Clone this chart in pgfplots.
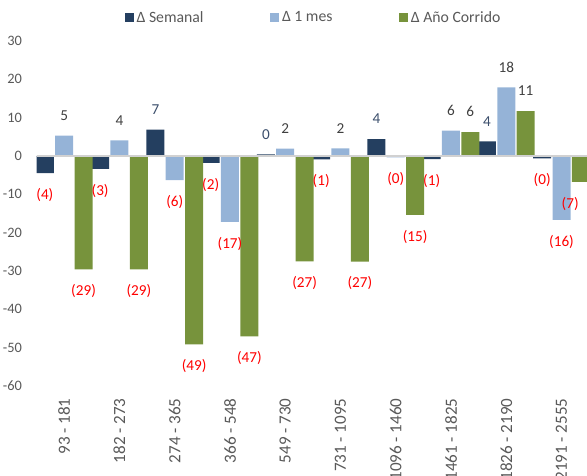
\documentclass[border=0pt]{standalone}
\usepackage{pgfplots}
\pgfplotsset{compat=1.18}
\usepackage{fontspec}
\setmainfont{Carlito}
\definecolor{cNavy}{HTML}{243F60}
\definecolor{cLB}{HTML}{95B3D7}
\definecolor{cGreen}{HTML}{77933C}
\definecolor{cTick}{HTML}{595959}
\definecolor{cLab}{HTML}{404040}
\definecolor{cSemLab}{HTML}{3B4E6B}
\newcommand\nl[1]{\textcolor{red}{(#1)}}
\newcommand\pl[1]{\textcolor{cLab}{#1}}
\newcommand\ps[1]{\textcolor{cSemLab}{#1}}
\begin{document}
\begin{tikzpicture}
\useasboundingbox (-27.45pt,-67pt) rectangle (412.8pt,289.3pt);
\clip (-27.45pt,-67pt) rectangle (412.8pt,289.3pt);
\begin{axis}[
  at={(0pt,0pt)}, anchor=south west,
  scale only axis, width=414.4pt, height=258.5pt,
  xmin=-0.5, xmax=9.5, ymin=-60, ymax=30,
  ybar=1pt, bar width=13.5pt,
  ytick={-60,-50,...,30},
  xtick={0,...,9},
  xticklabels={93 - 181,182 - 273,274 - 365,366 - 548,549 - 730,731 - 1095,1096 - 1460,1461 - 1825,1826 - 2190,2191 - 2555},
  axis line style={draw=none},
  major tick length=0pt,
  /pgf/number format/assume math mode=true,
  yticklabel style={font=\fontsize{10.8}{12}\selectfont, text=cTick},
  yticklabel shift=7.5pt,
  xticklabel style={rotate=90, anchor=east, font=\fontsize{12.8}{14}\selectfont, text=cTick},
  xticklabel shift=6pt,
  point meta=explicit symbolic,
  visualization depends on={rawy \as \rawy},
  nodes near coords,
  nodes near coords style={font=\fontsize{11.4}{13}\selectfont, inner ysep=11.2pt,
    anchor={\ifdim\rawy pt<0pt north\else south\fi}},
  every axis plot post/.append style={draw=none,
    legend image code/.code={\fill[##1] (0pt,-3.4pt) rectangle (6.8pt,3.4pt);}},
  legend columns=3,
  legend style={at={(0.502,1.0676)}, anchor=center, draw=none, fill=none,
    font=\fontsize{11.8}{13}\selectfont, text=cTick,
    /tikz/every even column/.append style={column sep=48pt}},
]
\addplot[fill=cNavy] coordinates {
 (0,-4.5) [\nl{4}] (1,-3.4) [\nl{3}] (2,6.9) [\ps{7}] (3,-1.8) [\nl{2}] (4,0.4) [\ps{0}]
 (5,-0.9) [\nl{1}] (6,4.4) [\ps{4}] (7,-0.8) [\nl{1}] (8,3.8) [\ps{4}] (9,-0.6) [\nl{0}]
};
\addplot[fill=cLB] coordinates {
 (0,5.3) [\pl{5}] (1,4.1) [\pl{4}] (2,-6.3) [\nl{6}] (3,-17.2) [\nl{17}] (4,1.9) [\pl{2}]
 (5,2.0) [\pl{2}] (6,-0.4) [\nl{0}] (7,6.6) [\pl{6}] (8,17.9) [\pl{18}] (9,-16.7) [\nl{16}]
};
\addplot[fill=cGreen] coordinates {
 (0,-29.6) [\nl{29}] (1,-29.6) [\nl{29}] (2,-49.2) [\nl{49}] (3,-47.1) [\nl{47}] (4,-27.5) [\nl{27}]
 (5,-27.6) [\nl{27}] (6,-15.4) [\nl{15}] (7,6.2) [\pl{6}] (8,11.7) [\pl{11}] (9,-6.8) [\nl{7}\hspace*{16pt}]
};
\legend{Δ Semanal,Δ 1 mes,Δ Año Corrido}
\draw[draw=black!18, line width=1.2pt] (axis cs:-0.5,0) -- (axis cs:9.5,0);
\end{axis}
\end{tikzpicture}
\end{document}
